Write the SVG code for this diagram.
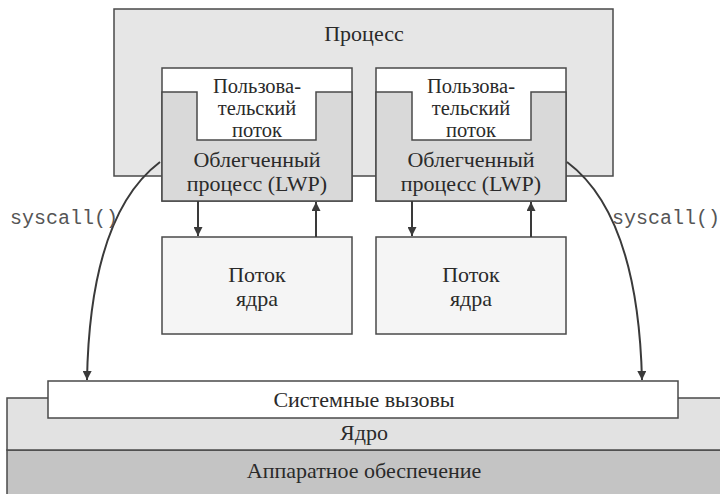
<svg xmlns="http://www.w3.org/2000/svg" width="720" height="494" viewBox="0 0 720 494">
<style>
.box{stroke:#4a4a4a;stroke-width:1.5}
.t{font-family:'Liberation Serif','Times New Roman','DejaVu Serif',serif;font-size:22px;fill:#2a2a2a;text-anchor:middle}
.u{font-size:20.5px}
.m{font-family:'Liberation Mono','Courier New',monospace;font-size:20px;fill:#555}
.ln{fill:none;stroke:#3a3a3a;stroke-width:2}
</style>
<defs>
<marker id="ah" viewBox="0 0 10 10" refX="10" refY="5" markerWidth="12" markerHeight="9" markerUnits="userSpaceOnUse" orient="auto">
<path d="M0,0 L10,5 L0,10 z" fill="#3a3a3a"/>
</marker>
</defs>
<rect width="720" height="494" fill="#fff"/>
<g id="hardware">
<rect class="box" x="7" y="450" width="720" height="50" fill="#c4c4c4"/>
<text class="t" x="364" y="478">Аппаратное обеспечение</text>
</g>
<g id="kernel">
<rect class="box" x="7" y="398" width="720" height="52" fill="#e2e2e2"/>
<text class="t" x="364" y="440">Ядро</text>
</g>
<g id="syscalls">
<rect class="box" x="48" y="381" width="630" height="37" fill="#fff"/>
<text class="t" x="364" y="407">Системные вызовы</text>
</g>
<g id="process">
<rect class="box" x="114" y="9" width="499" height="167" fill="#e6e6e6"/>
<text class="t" x="364" y="41">Процесс</text>
</g>
<g id="lwp1">
<rect class="box" x="162" y="68" width="190" height="133" fill="#fff"/>
<path class="box" d="M162,92 H197 V140 H316 V92 H352 V201 H162 Z" fill="#d9d9d9"/>
<text class="t u" x="257" y="93">Пользова-</text>
<text class="t u" x="257" y="115">тельский</text>
<text class="t u" x="257" y="137">поток</text>
<text class="t" x="257" y="167">Облегченный</text>
<text class="t" x="257" y="191">процесс (LWP)</text>
</g>
<g id="lwp2">
<rect class="box" x="376" y="68" width="190" height="133" fill="#fff"/>
<path class="box" d="M376,92 H412 V140 H531 V92 H566 V201 H376 Z" fill="#d9d9d9"/>
<text class="t u" x="471" y="93">Пользова-</text>
<text class="t u" x="471" y="115">тельский</text>
<text class="t u" x="471" y="137">поток</text>
<text class="t" x="471" y="167">Облегченный</text>
<text class="t" x="471" y="191">процесс (LWP)</text>
</g>
<g id="kthread1">
<rect class="box" x="162" y="237" width="190" height="97" fill="#f5f5f5"/>
<text class="t" x="257" y="282">Поток</text>
<text class="t" x="257" y="306">ядра</text>
</g>
<g id="kthread2">
<rect class="box" x="376" y="237" width="190" height="97" fill="#f5f5f5"/>
<text class="t" x="471" y="282">Поток</text>
<text class="t" x="471" y="306">ядра</text>
</g>
<g id="connectors">
<line class="ln" x1="198" y1="201" x2="198" y2="236" marker-end="url(#ah)"/>
<line class="ln" x1="316" y1="237" x2="316" y2="202" marker-end="url(#ah)"/>
<line class="ln" x1="412" y1="201" x2="412" y2="236" marker-end="url(#ah)"/>
<line class="ln" x1="531" y1="237" x2="531" y2="202" marker-end="url(#ah)"/>
<path class="ln" d="M160,162 Q90,215 87,380" marker-end="url(#ah)"/>
<path class="ln" d="M567,162 Q638,215 642,380" marker-end="url(#ah)"/>
<text class="m" x="10" y="224">syscall()</text>
<text class="m" x="612" y="224">syscall()</text>
</g>
</svg>
